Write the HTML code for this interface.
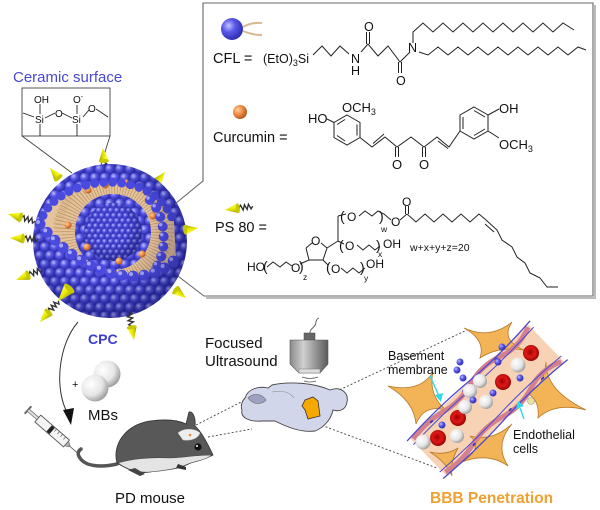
<!DOCTYPE html>
<html><head><meta charset="utf-8">
<style>
html,body{margin:0;padding:0;background:#fff;}
svg{display:block;font-family:"Liberation Sans",Arial,sans-serif;}
</style></head><body>
<svg width="600" height="510" viewBox="0 0 600 510" xmlns="http://www.w3.org/2000/svg">
<defs>
 <radialGradient id="ball" cx="35%" cy="35%" r="65%">
  <stop offset="0" stop-color="#c4c4ff"/>
  <stop offset="0.45" stop-color="#5a5aea"/>
  <stop offset="1" stop-color="#3030b0"/>
 </radialGradient>
 <pattern id="balls" width="10" height="17.32" patternUnits="userSpaceOnUse">
  <rect width="10" height="17.32" fill="#3232b0"/>
  <circle cx="5" cy="4.33" r="5" fill="url(#ball)"/>
  <circle cx="0" cy="12.99" r="5" fill="url(#ball)"/>
  <circle cx="10" cy="12.99" r="5" fill="url(#ball)"/>
 </pattern>
 <pattern id="sballs" width="6" height="10.39" patternUnits="userSpaceOnUse">
  <rect width="6" height="10.39" fill="#3a3abc"/>
  <circle cx="3" cy="2.6" r="3" fill="url(#ball)"/>
  <circle cx="0" cy="7.8" r="3" fill="url(#ball)"/>
  <circle cx="6" cy="7.8" r="3" fill="url(#ball)"/>
 </pattern>
 <radialGradient id="shade" cx="42%" cy="40%" r="62%">
  <stop offset="0.55" stop-color="#000040" stop-opacity="0"/>
  <stop offset="1" stop-color="#000030" stop-opacity="0.35"/>
 </radialGradient>
 <radialGradient id="orb" cx="35%" cy="35%" r="65%">
  <stop offset="0" stop-color="#ffd0a0"/>
  <stop offset="0.5" stop-color="#f09048"/>
  <stop offset="1" stop-color="#b85a20"/>
 </radialGradient>
 <radialGradient id="wht" cx="35%" cy="35%" r="70%">
  <stop offset="0" stop-color="#ffffff"/>
  <stop offset="0.6" stop-color="#e6e6e6"/>
  <stop offset="1" stop-color="#9a9a9a"/>
 </radialGradient>
 <radialGradient id="red" cx="45%" cy="45%" r="60%">
  <stop offset="0" stop-color="#a00000"/>
  <stop offset="0.5" stop-color="#e01818"/>
  <stop offset="1" stop-color="#8a0000"/>
 </radialGradient>
 <linearGradient id="yel" x1="0" y1="0" x2="0" y2="1">
  <stop offset="0" stop-color="#ffff60"/>
  <stop offset="0.5" stop-color="#e8e800"/>
  <stop offset="1" stop-color="#9a9a00"/>
 </linearGradient>
 <linearGradient id="trans" x1="0" y1="0" x2="1" y2="0">
  <stop offset="0" stop-color="#8a8a8a"/>
  <stop offset="0.35" stop-color="#d0d0d0"/>
  <stop offset="1" stop-color="#5a5a5a"/>
 </linearGradient>
 <g id="cone"><polygon points="0,0 13,-5 13,5" fill="url(#yel)"/><ellipse cx="13" cy="0" rx="2" ry="5" fill="#c8c800"/></g>
 <g id="ct"><path d="M14 0 l2 -2.5 l2 5 l2 -5 l2 5 l2 -5 l2 5 l2 -2.5" fill="none" stroke="#333" stroke-width="1.4"/><use href="#cone"/></g>
 <clipPath id="openclip"><path d="M40 224 C 50 178, 150 160, 174 222 L 176 258 C 150 290, 85 280, 40 224 Z"/></clipPath>
</defs>

<!-- legend box -->
<polyline points="595,5 595,298 206,298" fill="none" stroke="#bbb" stroke-width="2"/>
<polyline points="170,208 203,181 203,3 593,3 593,296 204,296 170,270" fill="none" stroke="#666" stroke-width="1.1"/>

<!-- CFL -->
<circle cx="232" cy="29" r="11" fill="url(#ball)"/>
<path d="M243 27 Q252 22 262 23 M243 31 Q252 35 262 35" fill="none" stroke="#d8b890" stroke-width="2"/>
<text x="213" y="63" font-size="14.5" fill="#111">CFL =</text>
<text x="263" y="63" font-size="12.5" fill="#111">(EtO)<tspan font-size="9" dy="3">3</tspan><tspan dy="-3">Si</tspan></text>
<g fill="none" stroke="#222" stroke-width="1">
 <polyline points="313,55 322,46 331,56 340,46 349,54"/>
 <polyline points="361,52 368,44 378,56 388,46 400,62 410,52"/>
 <line x1="366.5" y1="44" x2="366.5" y2="32"/><line x1="369.5" y1="44" x2="369.5" y2="32"/>
 <line x1="398.5" y1="62" x2="398.5" y2="73"/><line x1="401.5" y1="62" x2="401.5" y2="73"/>
 <polyline points="413,43 413,32 423,23 433,32 443,23 453,32 463,23 473,32 483,23 493,32 503,23 513,32 523,23 533,32 543,23 553,32 563,23 574,30"/>
 <polyline points="419,52 428,55 438,47 448,55 458,47 468,55 478,47 488,55 498,47 508,55 518,47 528,55 538,47 548,55 558,47 568,55 578,47 586,50"/>
</g>
<g font-size="12.5" fill="#111">
 <text x="351" y="63">N</text><text x="351" y="75">H</text>
 <text x="364" y="31">O</text><text x="396" y="85">O</text>
 <text x="408" y="52">N</text>
</g>

<!-- Curcumin -->
<circle cx="240" cy="112" r="7" fill="url(#orb)"/>
<text x="213" y="142" font-size="14.5" fill="#111">Curcumin =</text>
<g fill="none" stroke="#222" stroke-width="1">
 <polygon points="347,115 360,122.5 360,137.5 347,145 334,137.5 334,122.5"/>
 <line x1="357" y1="124.5" x2="357" y2="135.5"/><line x1="337" y1="124.5" x2="345" y2="119.5"/><line x1="337" y1="135.5" x2="345" y2="141"/>
 <line x1="334" y1="122.5" x2="327" y2="119"/>
 <polyline points="360,137.5 372,147 385,137 397,147 411,137 424,147 437,137 449,147 460,131"/>
 <line x1="373" y1="143.5" x2="384" y2="134"/>
 <line x1="438" y1="141" x2="448" y2="148.5"/>
 <line x1="395.5" y1="147" x2="395.5" y2="157"/><line x1="398.5" y1="147" x2="398.5" y2="157"/>
 <line x1="422.5" y1="147" x2="422.5" y2="157"/><line x1="425.5" y1="147" x2="425.5" y2="157"/>
 <polygon points="474,107 488,115 488,131 474,139 460,131 460,115"/>
 <line x1="463" y1="117" x2="463" y2="129"/><line x1="474" y1="110.5" x2="485" y2="117"/><line x1="474" y1="135.5" x2="485" y2="129"/>
 <line x1="488" y1="115" x2="499" y2="109"/><line x1="488" y1="131" x2="499" y2="138"/>
</g>
<g font-size="13" fill="#111">
 <text x="308" y="123">HO</text>
 <text x="342" y="112">OCH<tspan font-size="9" dy="3">3</tspan></text>
 <text x="392" y="169">O</text><text x="419" y="169">O</text>
 <text x="499" y="113">OH</text>
 <text x="499" y="149">OCH<tspan font-size="9" dy="3">3</tspan></text>
</g>

<!-- PS 80 -->
<use href="#ct" transform="translate(225,210) rotate(-8)"/>
<text x="215" y="232" font-size="14.5" fill="#111">PS 80 =</text>
<g fill="none" stroke="#222" stroke-width="1">
 <line x1="306" y1="248" x2="312" y2="243"/><line x1="321" y1="243" x2="327" y2="248"/>
 <polyline points="327,248 323,260 309,260 306,248"/>
 <line x1="327" y1="248" x2="338" y2="241"/>
 <line x1="338" y1="241" x2="338" y2="216"/>
 <line x1="338" y1="216" x2="346" y2="214"/>
 <polyline points="359,216 365,211 372,216 378,211 384,214 391,220"/>
 <line x1="400" y1="220" x2="407" y2="214"/>
 <line x1="405.5" y1="214" x2="405.5" y2="206"/><line x1="408.5" y1="214" x2="408.5" y2="206"/>
 <line x1="338" y1="241" x2="344" y2="244"/>
 <polyline points="357,245 363,250 369,245 375,250 380,246"/>
 <line x1="323" y1="260" x2="328" y2="265"/>
 <polyline points="341,268 347,273 353,268 359,273 365,268"/>
 <polyline points="267,267 273,262 280,267 286,262 292,266"/>
 <line x1="300" y1="264" x2="309" y2="260"/>
 <polyline points="407,214 416,222 425,214 434,222 443,214 452,222 461,214 470,222 479,214 486,220 497,230 502,240 512,247 517,257 525,263 530,273 540,278 547,287 558,287"/>
 <line x1="485" y1="224" x2="494" y2="232"/>
</g>
<g font-size="12" fill="#111">
 <text x="311" y="245">O</text>
 <text x="340" y="221" font-size="14">(</text><text x="347" y="221">O</text><text x="379" y="221" font-size="14">)</text>
 <text x="381" y="232" font-size="8.5">w</text>
 <text x="391" y="226">O</text>
 <text x="402" y="206">O</text>
 <text x="339" y="250" font-size="14">(</text><text x="345" y="250">O</text><text x="376" y="250" font-size="14">)</text>
 <text x="378" y="257" font-size="8.5">x</text><text x="383" y="248">OH</text>
 <text x="326" y="272" font-size="14">(</text><text x="331" y="273">O</text><text x="360" y="272" font-size="14">)</text>
 <text x="364" y="281" font-size="8.5">y</text><text x="366" y="268">OH</text>
 <text x="247" y="271">HO</text>
 <text x="263" y="271" font-size="14">(</text><text x="291" y="272">O</text><text x="299" y="271" font-size="14">)</text>
 <text x="303" y="280" font-size="8.5">z</text>
 <text x="410" y="251" font-size="10.5">w+x+y+z=20</text>
</g>

<!-- Ceramic surface -->
<text x="13" y="82" font-size="15" fill="#4848d4">Ceramic surface</text>
<rect x="22" y="88" width="88" height="48" fill="#fff" stroke="#555" stroke-width="1"/>
<line x1="22" y1="136" x2="72" y2="173" stroke="#444" stroke-width="0.9"/>
<line x1="110" y1="136" x2="100" y2="168" stroke="#444" stroke-width="0.9"/>
<g fill="none" stroke="#222" stroke-width="0.9">
 <line x1="23" y1="113" x2="34" y2="117"/>
 <line x1="40" y1="104" x2="40" y2="114"/>
 <line x1="45" y1="118" x2="55" y2="113"/>
 <line x1="62" y1="113" x2="72" y2="118"/>
 <line x1="77" y1="105" x2="77" y2="114"/>
 <line x1="83" y1="117" x2="89" y2="110"/>
 <line x1="96" y1="109" x2="108" y2="117"/>
 <line x1="40" y1="124" x2="40" y2="136"/><line x1="77" y1="124" x2="77" y2="136"/>
</g>
<g font-size="10" fill="#111">
 <text x="34" y="103">OH</text><text x="35" y="123">Si</text>
 <text x="55" y="117">O</text>
 <text x="73" y="103">O<tspan font-size="7" dy="-4">-</tspan></text>
 <text x="72" y="123">Si</text><text x="88" y="112">O</text>
</g>

<!-- cones behind -->
<use href="#cone" transform="translate(165,172) rotate(128)"/>
<use href="#ct" transform="translate(103,148) rotate(86)"/>
<use href="#cone" transform="translate(50,168) rotate(50)"/>

<!-- sphere -->
<circle cx="110" cy="241" r="77" fill="url(#balls)"/>
<path d="M40 224 C 50 178, 150 160, 174 222 L 176 258 C 150 290, 85 280, 40 224 Z" fill="#e4c49c"/>
<g clip-path="url(#openclip)">
 <circle cx="113" cy="232" r="48" fill="none" stroke="#c49a6c" stroke-width="22" stroke-dasharray="1 2.2"/>
 <circle cx="113" cy="232" r="56" fill="none" stroke="#d6ae82" stroke-width="10" stroke-dasharray="1 3"/>
</g>
<circle cx="113" cy="232" r="38" fill="url(#balls)"/>
<circle cx="113" cy="232" r="29" fill="url(#sballs)"/>
<circle cx="113" cy="232" r="29" fill="url(#shade)"/>
<g fill="url(#orb)">
 <circle cx="88" cy="190" r="3.6"/><circle cx="105" cy="185" r="3.6"/><circle cx="126" cy="183" r="3.6"/>
 <circle cx="148" cy="200" r="3.6"/><circle cx="153" cy="216" r="3.6"/><circle cx="68" cy="225" r="3.6"/>
 <circle cx="87" cy="247" r="3.6"/><circle cx="119" cy="261" r="3.6"/><circle cx="142" cy="254" r="3.6"/>
</g>
<path d="M150 200 C 166 215, 168 250, 156 268" fill="none" stroke="#4a4ade" stroke-width="10" stroke-linecap="round" stroke-dasharray="0 10"/>
<path d="M148 198 C 164 213, 166 248, 154 266" fill="none" stroke="#a8a8ff" stroke-width="3.5" stroke-linecap="round" stroke-dasharray="0 10"/>
<path d="M40 224 C 50 178, 150 160, 174 222" fill="none" stroke="#4a4ade" stroke-width="9" stroke-linecap="round" stroke-dasharray="0 9"/>
<path d="M40 224 C 85 280, 150 290, 176 258" fill="none" stroke="#4a4ade" stroke-width="11" stroke-linecap="round" stroke-dasharray="0 11"/>
<path d="M38 222 C 83 278, 148 288, 174 256" fill="none" stroke="#a8a8ff" stroke-width="4" stroke-linecap="round" stroke-dasharray="0 11"/>
<circle cx="110" cy="241" r="77" fill="url(#shade)"/>

<!-- cones front -->
<use href="#ct" transform="translate(8,214) rotate(15)"/>
<use href="#ct" transform="translate(10,238) rotate(2)"/>
<use href="#cone" transform="translate(198,228) rotate(172)"/>
<use href="#ct" transform="translate(16,280) rotate(-22)"/>
<use href="#cone" transform="translate(58,301) rotate(-48) scale(1.3)"/>
<use href="#ct" transform="translate(40,322) rotate(-49)"/>
<use href="#cone" transform="translate(186,298) rotate(-143)"/>
<use href="#ct" transform="translate(134,340) rotate(-100)"/>

<!-- CPC, arrow, MBs -->
<text x="88" y="344" font-size="14" font-weight="bold" fill="#3c3cd0">CPC</text>
<path d="M78 322 C 58 345, 54 390, 68 414" fill="none" stroke="#333" stroke-width="1"/>
<polygon points="63,410 74,408 71,425" fill="#111"/>
<circle cx="107" cy="374" r="13.5" fill="url(#wht)"/>
<circle cx="95" cy="388" r="13.5" fill="url(#wht)"/>
<text x="72" y="388" font-size="11" fill="#111">+</text>
<text x="88" y="420" font-size="15" fill="#111">MBs</text>

<!-- syringe -->
<g transform="translate(28,410) rotate(41)">
 <line x1="0" y1="-5" x2="0" y2="5" stroke="#666" stroke-width="2"/>
 <rect x="0" y="-1.5" width="14" height="3" fill="#ddd" stroke="#666" stroke-width="0.7"/>
 <rect x="13" y="-4.5" width="38" height="9" fill="#f4f4f4" stroke="#555" stroke-width="0.9"/>
 <rect x="28" y="-4" width="4" height="8" fill="#222"/>
 <g stroke="#666" stroke-width="0.7"><line x1="34" y1="-4.5" x2="34" y2="-1"/><line x1="38" y1="-4.5" x2="38" y2="-1"/><line x1="42" y1="-4.5" x2="42" y2="-1"/><line x1="46" y1="-4.5" x2="46" y2="-1"/></g>
 <polygon points="51,-3 55,-1 55,1 51,3" fill="#aaa" stroke="#555" stroke-width="0.5"/>
 <line x1="55" y1="0" x2="66" y2="0" stroke="#555" stroke-width="0.8"/>
</g>

<!-- mouse -->
<path d="M117 464 C 100 468, 85 466, 80 458 C 77 454, 78 451, 81 449" fill="none" stroke="#555" stroke-width="3.5" stroke-linecap="round"/>
<path d="M117 463 C 112 445, 125 425, 150 421 C 165 419, 178 420, 186 424 L 189 412 C 193 411, 196 418, 195 426 C 201 431, 207 442, 213 455 C 208 458, 200 459, 195 460 C 185 468, 170 470, 160 470 L 150 472 C 140 474, 128 470, 117 463 Z" fill="#585858" stroke="#333" stroke-width="0.8"/>
<path d="M118 463 C 130 459, 150 457, 170 458 C 185 457, 200 455, 212 455 C 206 460, 196 461, 188 464 C 175 470, 160 471, 150 472 C 138 473, 126 469, 118 463 Z" fill="#e4e4e4" stroke="#444" stroke-width="0.6"/>
<path d="M178 433 C 183 428, 195 428, 200 433 C 198 439, 190 441, 183 440 Z" fill="#eee" stroke="#bbb" stroke-width="0.5"/>
<circle cx="190" cy="435" r="1.3" fill="#e88a30"/>
<circle cx="198" cy="447" r="3.6" fill="#111"/><circle cx="197" cy="446" r="1" fill="#fff"/>
<path d="M128 470 L 140 476 L 145 474 L 135 468 Z" fill="#444"/>
<path d="M178 464 L 186 467 L 186 470 L 176 468 Z" fill="#333"/>
<text x="115" y="503" font-size="15" fill="#111">PD mouse</text>

<!-- dotted lines -->
<g stroke="#444" stroke-width="0.9" stroke-dasharray="2 2" fill="none">
 <line x1="196" y1="425" x2="247" y2="399"/>
 <line x1="208" y1="437" x2="252" y2="429"/>
 <line x1="318" y1="400" x2="467" y2="330"/>
 <line x1="318" y1="424" x2="437" y2="468"/>
</g>

<!-- ultrasound -->
<text x="205" y="348" font-size="15" fill="#111">Focused</text>
<text x="205" y="366" font-size="15" fill="#111">Ultrasound</text>
<path d="M310 334 C 309 328, 316 328, 316 322 C 316 320, 318 318, 319 318" fill="none" stroke="#444" stroke-width="0.8"/>
<rect x="304" y="333" width="11" height="7" fill="#666" stroke="#444" stroke-width="0.5"/>
<path d="M290 340 L 328 340 L 328 364 L 320 373 L 299 373 L 290 364 Z" fill="url(#trans)" stroke="#555" stroke-width="0.6"/>
<rect x="299" y="369" width="21" height="4" fill="#ddd" stroke="#777" stroke-width="0.5"/>
<g fill="none" stroke="#555" stroke-width="0.8">
 <path d="M302 377 Q310 380 318 377"/><path d="M304 381 Q310 383 316 381"/><path d="M306 385 Q310 386 314 385"/>
</g>

<!-- brain -->
<path d="M245 398 C 248 388, 260 386, 268 388 L 272 385 C 290 381, 315 383, 330 390 C 340 386, 349 392, 347 402 C 346 410, 339 412, 333 410 C 331 420, 323 428, 315 431 C 300 433, 285 426, 275 421 L 262 421 C 250 422, 240 418, 242 410 C 240 405, 243 400, 245 398 Z" fill="#d2d6ea" stroke="#444" stroke-width="0.9"/>
<path d="M248 398 C 255 392, 262 394, 266 400 C 262 404, 254 406, 248 398 Z" fill="#9ea2c0" stroke="#666" stroke-width="0.6"/>
<path d="M272 392 C 282 390, 290 392, 294 398" fill="none" stroke="#888" stroke-width="0.6"/>
<path d="M305 400 L 313 397 L 318 401 L 320 416 L 308 419 L 305 410 L 302 406 Z" fill="#f5a800" stroke="#333" stroke-width="0.8"/>

<!-- BBB -->
<g transform="translate(487,400) rotate(-44)">
 <rect x="-82" y="-26" width="164" height="52" fill="#f8d2b4"/>
</g>
<g fill="#f2b456" stroke="#b8792a" stroke-width="0.8">
 <path d="M388 386 Q420 393 433 372 Q428 395 446 410 Q424 404 416 424 Q414 401 388 386Z"/>
 <path d="M464 328 Q490 340 512 322 Q500 340 524 350 Q498 346 480 358 Q486 340 464 328Z"/>
 <path d="M546 362 Q545 390 586 410 Q555 402 538 418 Q540 400 527 393 Q544 388 546 362Z"/>
 <path d="M512 424 Q494 445 508 466 Q488 452 462 462 Q484 448 470 436 Q492 442 512 424Z"/>
 <path d="M430 452 Q446 456 458 448 Q450 462 452 476 Q446 462 430 452Z"/>
</g>
<g transform="translate(487,400) rotate(-44)">
 <path d="M-80 -23 Q -60 -27 -40 -22 T 0 -23 T 40 -22 T 80 -24" fill="none" stroke="#d4808e" stroke-width="5"/>
 <path d="M-80 23 Q -60 27 -40 22 T 0 23 T 40 22 T 80 24" fill="none" stroke="#d4808e" stroke-width="5"/>
 <path d="M-86 -26 Q -40 -29 0 -26 T 86 -27" fill="none" stroke="#4a4ad0" stroke-width="1.3"/>
 <path d="M-84 -19 Q -40 -21 0 -19 T 84 -20" fill="none" stroke="#4a4ad0" stroke-width="1"/>
 <path d="M-86 26 Q -40 29 0 26 T 86 27" fill="none" stroke="#4a4ad0" stroke-width="1.3"/>
 <path d="M-84 19 Q -40 21 0 19 T 84 20" fill="none" stroke="#4a4ad0" stroke-width="1"/>
 <g fill="#3a3ab8"><ellipse cx="-55" cy="-23" rx="2" ry="1"/><ellipse cx="-10" cy="-23" rx="2" ry="1"/><ellipse cx="35" cy="-23" rx="2" ry="1"/><ellipse cx="-40" cy="23" rx="2" ry="1"/><ellipse cx="10" cy="23" rx="2" ry="1"/><ellipse cx="55" cy="23" rx="2" ry="1"/></g>
</g>
<g fill="url(#red)">
 <circle cx="531" cy="353" r="8"/><circle cx="503" cy="382" r="8"/><circle cx="458" cy="418" r="8"/><circle cx="438" cy="438" r="8"/>
</g>
<g fill="url(#wht)">
 <circle cx="518" cy="365" r="7.5"/><circle cx="480" cy="381" r="7"/><circle cx="470" cy="391" r="7"/>
 <circle cx="486" cy="402" r="7"/><circle cx="465" cy="407" r="7"/><circle cx="457" cy="436" r="7"/><circle cx="423" cy="442" r="7.5"/>
</g>
<g fill="url(#ball)">
 <circle cx="502" cy="347" r="3.5"/><circle cx="460" cy="362" r="3.5"/><circle cx="457" cy="370" r="3.5"/>
 <circle cx="498" cy="362" r="3.5"/><circle cx="463" cy="378" r="3.5"/><circle cx="520" cy="378" r="3.5"/>
 <circle cx="493" cy="393" r="3.5"/><circle cx="442" cy="425" r="3.5"/><circle cx="473" cy="400" r="3.5"/>
</g>
<circle cx="531" cy="401" r="3.5" fill="#e8e0a0" stroke="#998" stroke-width="0.6"/>
<g stroke="#30d8e8" stroke-width="1.4" fill="#30d8e8">
 <line x1="430" y1="376" x2="439" y2="396"/><polygon points="435,395 443,393 441,402" stroke="none"/>
 <line x1="524" y1="419" x2="520" y2="408"/><polygon points="516,409 524,406 518,401" stroke="none"/>
</g>
<g font-size="12.5" fill="#111">
 <text x="388" y="360">Basement</text><text x="388" y="374">membrane</text>
 <text x="513" y="439">Endothelial</text><text x="513" y="453">cells</text>
</g>
<text x="430" y="503" font-size="15.5" font-weight="bold" fill="#f0a030">BBB Penetration</text>
</svg>
</body></html>
